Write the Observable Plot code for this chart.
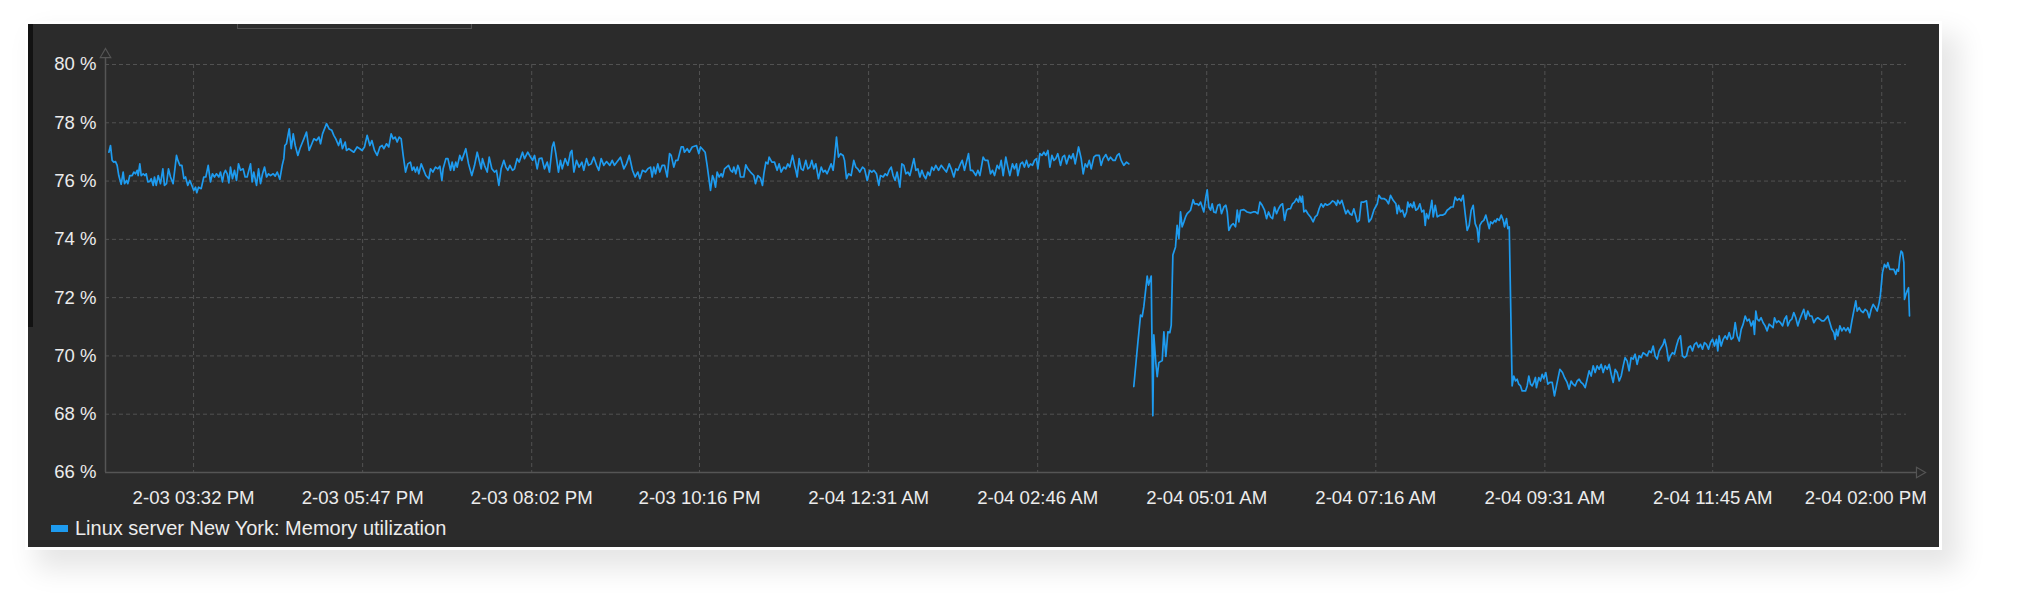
<!DOCTYPE html>
<html><head><meta charset="utf-8">
<script src="https://cdn.jsdelivr.net/npm/d3@7"></script>
<script src="https://cdn.jsdelivr.net/npm/@observablehq/plot@0.6"></script>
<style>
html,body{margin:0;padding:0;background:#fff;width:2017px;height:602px;overflow:hidden;font-family:"Liberation Sans",Arial,sans-serif;}
#panel{position:absolute;left:28px;top:24px;width:1911px;height:523px;background:#2b2b2b;box-shadow:0 0 0 3px #fff, 14px 16px 26px 6px rgba(0,0,0,0.10);}
#strip{position:absolute;left:28px;top:24px;width:5px;height:303px;background:#121212;}
#tab{position:absolute;left:237px;top:24px;width:233px;height:4px;border:1px solid #505050;border-top:none;background:#2e2e2e;}
#chart{position:absolute;left:0;top:0;}
#legend{position:absolute;left:51px;top:516px;height:24px;display:flex;align-items:center;color:#ececec;font-size:20px;white-space:nowrap;}
#legend .sw{width:17px;height:7px;margin-right:7px;}
</style>
</head><body>
<div id="panel"></div><div id="strip"></div><div id="tab"></div>
<div id="chart"></div>
<div id="legend"><span class="sw"></span><span id="legendText"></span></div>
<script>
// ---- data ----
const seriesName = "Linux server New York: Memory utilization";
const startTime = Date.UTC(2024, 1, 3, 14, 21, 40); // 2-03 02:21 PM
const spanMinutes = 1438.1;
const yTicks = [66, 68, 70, 72, 74, 76, 78, 80];
const xTickTimes = ["2024-02-03T15:32Z","2024-02-03T17:47Z","2024-02-03T20:02Z","2024-02-03T22:16Z","2024-02-04T00:31Z","2024-02-04T02:46Z","2024-02-04T05:01Z","2024-02-04T07:16Z","2024-02-04T09:31Z","2024-02-04T11:45Z","2024-02-04T14:00Z"];
const xTickLabels = ["2-03 03:32 PM","2-03 05:47 PM","2-03 08:02 PM","2-03 10:16 PM","2-04 12:31 AM","2-04 02:46 AM","2-04 05:01 AM","2-04 07:16 AM","2-04 09:31 AM","2-04 11:45 AM","2-04 02:00 PM"];

// [minutes after start, memory %]
const beforeGapA = [[2.7,76.99],[4.0,77.22],[5.3,76.71],[6.6,76.65],[8.0,76.67],[9.3,76.54],[10.6,76.19],[12.5,75.89],[14.1,76.31],[15.2,75.91],[16.8,76.02],[17.8,75.91],[19.4,76.19],[21.3,76.19],[22.6,76.31],[23.9,76.25],[25.3,76.37],[26.1,76.19],[27.4,76.59],[28.5,76.19],[30.1,76.25],[31.4,76.19],[32.5,76.25],[33.8,75.97],[35.4,75.99],[36.5,76.08],[38.1,75.85],[39.1,76.14],[40.5,75.85],[42.1,76.19],[43.9,75.91],[45.8,76.42],[47.1,75.85],[48.7,75.91],[50.3,76.42],[51.9,76.14],[54.0,75.91],[56.7,76.88],[57.8,76.71],[59.4,76.54],[61.0,76.54],[62.6,76.08],[63.9,76.14],[65.7,75.85],[67.3,76.02],[68.4,75.91],[70.5,75.68],[71.9,75.79],[72.9,75.60],[74.3,75.79],[76.4,75.74],[78.5,76.14],[80.1,76.14],[82.0,76.54],[83.8,75.97],[85.4,76.25],[87.0,76.14],[88.6,76.25],[90.5,76.14],[91.8,76.31],[93.4,75.97],[94.5,76.25],[95.8,76.37],[97.2,76.25],[98.5,75.94],[99.8,76.48],[101.4,76.08],[103.0,76.37],[104.6,76.02],[106.2,76.59],[107.8,76.37],[109.9,76.42],[111.5,76.14],[113.1,76.14],[115.8,76.59],[117.1,75.97],[118.4,76.31],[120.6,75.85],[122.2,76.42],[123.8,75.91],[125.4,76.25],[127.0,76.48],[128.6,76.14],[130.2,76.25],[131.8,76.19],[133.9,76.25],[135.5,76.17],[137.1,76.31],[139.2,76.06],[141.1,76.54],[142.4,76.77],[143.2,77.22],[144.5,77.28],[146.7,77.79],[148.3,77.11],[149.9,77.62],[151.5,77.22],[153.6,76.88],[155.2,77.11],[156.8,77.28],[158.4,77.45],[160.5,77.68],[162.6,77.05],[164.8,77.28],[166.4,77.45],[168.5,77.39],[170.4,77.51],[171.7,77.28],[173.3,77.62],[176.5,77.97],[178.6,77.79],[180.7,77.74],[182.3,77.57],[183.9,77.45],[186.1,77.22],[187.7,77.45],[189.2,77.11],[191.4,77.34],[192.4,77.05],[194.3,77.11],[198.3,76.99],[200.9,77.17],[203.1,77.11],[204.9,77.05],[206.8,77.17],[208.9,77.57],[211.1,77.22],[212.7,77.39],[214.8,77.05],[216.9,76.88],[219.1,77.17],[220.9,77.22],[222.3,77.11],[224.4,77.28],[226.2,77.17],[228.1,77.62],[229.7,77.45],[231.3,77.51],[232.9,77.34],[234.5,77.51]];
const beforeGapB = [[236.1,77.45],[237.7,76.88],[239.6,76.31],[241.4,76.59],[243.5,76.65],[244.9,76.37],[246.2,76.48],[247.5,76.31],[248.9,76.48],[250.2,76.25],[252.1,76.59],[253.7,76.42],[255.8,76.19],[258.2,76.08],[259.5,76.42],[261.4,76.31],[263.5,76.48],[265.4,76.42],[267.0,76.51],[268.6,76.02],[269.6,76.42],[271.8,76.77],[273.4,76.77],[275.5,76.37],[276.8,76.65],[278.2,76.37],[279.7,76.65],[280.8,76.48],[282.9,76.88],[284.5,76.71],[287.7,77.11],[289.9,76.59],[292.5,76.19],[294.7,76.54],[296.8,76.99],[298.4,76.71],[300.0,76.42],[301.0,76.77],[302.6,76.54],[304.8,76.31],[306.4,76.82],[308.5,76.42],[310.6,76.31],[312.2,76.37],[314.1,75.85],[315.9,76.42],[318.1,76.71],[319.7,76.48],[321.3,76.37],[322.9,76.54],[325.0,76.37],[326.6,76.42],[328.7,76.77],[330.3,76.65],[333.0,76.99],[334.6,76.77],[337.2,76.99],[339.4,76.82],[341.0,76.71],[342.6,76.88],[344.7,76.42],[346.3,76.77],[348.4,76.79],[350.5,76.42],[352.7,76.65],[354.5,76.31],[356.7,77.17],[358.0,77.34],[359.6,76.94],[361.7,76.31],[363.3,76.71],[364.7,76.42],[367.0,76.77],[369.2,76.54],[371.3,76.99],[372.4,77.05],[374.0,76.31],[376.1,76.71],[378.2,76.48],[380.4,76.65],[381.9,76.37],[384.1,76.77],[385.7,76.54],[387.8,76.59],[389.9,76.82],[392.1,76.54],[393.9,76.37],[395.8,76.77],[397.9,76.54],[400.1,76.67],[402.7,76.54],[404.6,76.71],[406.4,76.54],[411.2,76.82],[413.9,76.42],[416.0,76.59],[418.2,76.88],[420.8,76.37],[422.9,76.14],[425.1,76.31],[426.7,76.08],[428.8,76.37],[431.2,76.31],[433.1,76.42],[435.2,76.48],[436.5,76.14],[437.8,76.48],[439.2,76.25],[441.0,76.59],[442.6,76.31],[444.5,76.54],[446.4,76.54],[448.5,76.14],[450.4,76.94],[451.7,76.88],[453.8,76.48],[455.4,76.71],[457.0,76.71],[459.7,77.17],[461.3,77.17],[462.3,76.99],[464.5,77.11],[466.1,76.99],[468.5,77.17],[471.9,77.22],[473.8,76.94],[475.1,77.17]];
const beforeGapC = [[476.4,77.11],[478.8,76.99],[480.4,76.54],[481.5,76.19],[483.1,75.68],[484.7,76.19],[485.7,76.08],[487.1,75.79],[488.4,76.31],[490.0,76.14],[491.6,76.25],[492.7,76.14],[494.3,76.42],[495.9,76.48],[497.5,76.54],[499.1,76.37],[500.7,76.31],[501.7,76.48],[503.3,76.25],[504.9,76.54],[506.0,76.42],[507.0,76.14],[509.7,76.14],[511.3,76.56],[512.9,76.42],[515.0,76.31],[517.7,76.19],[519.0,75.91],[520.9,76.19],[523.0,76.10],[524.6,75.85],[525.7,76.25],[527.3,76.65],[528.9,76.59],[529.9,76.82],[532.1,76.65],[534.2,76.65],[536.3,76.37],[537.9,76.59],[539.5,76.31],[541.6,76.48],[543.2,76.42],[544.8,76.59],[546.4,76.48],[548.6,76.88],[550.2,76.54],[551.2,76.37],[552.3,76.14],[553.9,76.77],[555.5,76.42],[557.1,76.37],[559.2,76.71],[560.8,76.42],[562.4,76.48],[564.0,76.71],[565.6,76.42],[567.2,76.59],[569.3,76.08],[571.5,76.48],[573.1,76.31],[574.6,76.37],[576.2,76.25],[577.8,76.42],[579.4,76.59],[581.0,76.37],[582.1,76.77],[583.7,77.51],[585.3,76.82],[586.9,76.94],[589.0,76.88],[590.1,76.71],[591.7,76.08],[593.3,76.25],[595.4,76.19],[597.5,76.71],[599.1,76.48],[600.7,76.42],[602.3,76.31],[604.5,76.48],[606.1,76.42],[608.2,76.02],[610.3,76.37],[611.9,76.31],[613.5,76.37],[615.6,76.25],[617.5,75.85],[618.8,76.19],[621.0,76.14],[622.6,76.25],[624.2,76.19],[625.8,76.37],[627.4,76.48],[628.9,76.19],[630.5,76.02],[632.1,76.31],[634.3,75.79],[635.9,76.59],[637.5,76.54],[639.1,76.25],[640.7,76.31],[642.3,76.19]];
const beforeGapD = [[645.5,76.77],[647.1,76.37],[648.7,76.42],[650.3,76.14],[651.9,76.37],[653.4,76.19],[655.0,76.08],[656.6,76.31],[658.2,76.19],[659.8,76.48],[661.4,76.37],[663.0,76.54],[665.2,76.37],[667.3,76.54],[669.4,76.42],[671.5,76.31],[673.7,76.59],[675.3,76.42],[677.4,76.14],[679.0,76.42],[680.6,76.37],[682.7,76.59],[684.1,76.71],[685.9,76.37],[689.1,76.94],[690.7,76.37],[692.3,76.37],[695.0,76.19],[696.6,76.37],[698.2,76.19],[700.8,76.82],[702.4,76.71],[704.6,76.71],[706.7,76.25],[708.3,76.37],[709.9,76.19],[712.0,76.54],[713.6,76.42],[715.2,76.71],[716.8,76.19],[718.9,76.82],[720.5,76.48],[722.1,76.19],[724.2,76.59],[725.8,76.42],[727.4,76.59],[728.5,76.19],[730.6,76.59],[732.2,76.65],[733.8,76.48],[735.4,76.71],[737.0,76.48],[738.6,76.59],[740.2,76.54],[741.8,76.71],[743.4,76.77],[744.5,76.42],[746.1,76.94],[747.7,76.88],[749.3,76.99],[750.9,76.88],[752.5,77.05],[754.1,76.48],[755.7,76.88],[757.3,76.71],[758.8,76.77],[760.4,76.94],[762.6,76.54],[764.2,76.82],[765.8,76.88],[767.4,76.59],[769.5,76.88],[771.1,76.77],[772.7,76.94],[774.3,76.59],[777.0,77.17],[779.1,76.77],[780.7,76.25],[782.3,76.59],[783.9,76.48],[785.5,76.71],[787.1,76.42],[789.2,76.82],[790.8,76.88],[793.5,76.88],[795.0,76.54],[796.6,76.77],[798.8,76.91],[800.9,76.71],[802.5,76.82],[804.6,76.71],[806.2,76.71],[807.8,76.88],[809.4,76.94],[811.0,76.71],[813.1,76.54],[815.3,76.65],[817.1,76.59]];
const afterGapA = [[821.1,68.95],[823.3,69.98],[824.3,70.44],[826.5,71.40],[827.8,71.35],[829.1,71.69],[831.8,72.74],[832.9,72.43],[835.0,72.74],[836.3,67.95],[837.1,70.72],[838.7,69.75],[839.8,69.29],[841.1,69.77],[843.8,69.84],[845.1,70.83],[846.7,69.98],[848.3,70.83],[849.9,70.80],[851.0,71.06],[852.3,73.46],[854.4,73.74],[855.7,74.48],[857.1,74.03],[858.4,74.94],[859.7,74.43],[861.1,74.60],[862.4,74.77],[863.7,74.88],[865.1,74.94],[866.4,75.00],[868.5,75.36],[869.6,75.22],[871.7,75.22],[873.0,75.17],[874.4,75.28],[875.7,75.11],[877.0,74.94],[878.6,75.45],[879.7,75.70],[881.0,75.11],[882.4,75.00],[883.7,75.22],[885.0,74.94],[886.6,74.91],[888.2,75.17],[889.8,75.20],[891.1,74.88],[893.0,75.11],[894.6,75.17],[895.7,74.94],[897.0,74.31],[898.9,74.48],[900.5,74.54],[902.3,74.43],[903.7,75.00],[905.0,74.60],[906.3,75.00],[909.0,75.02],[911.6,74.94],[914.3,74.91],[916.4,74.94],[918.3,74.94],[920.2,74.88],[921.8,75.28],[923.6,75.17],[925.5,75.00],[927.1,74.71],[928.7,74.94],[930.3,74.77],[931.9,74.71],[933.5,75.11],[935.1,74.88],[936.7,75.05],[938.3,75.17],[939.9,75.22],[941.5,74.65],[943.1,75.00],[944.6,75.05],[946.2,75.05],[947.8,75.22],[949.4,75.28],[951.0,75.40],[952.6,75.28],[953.7,75.48],[954.8,75.28],[955.8,75.48],[956.9,74.94],[958.5,75.00],[960.1,74.88],[962.2,74.77],[964.3,74.60],[965.9,74.77],[967.5,74.83],[969.1,75.05],[970.7,75.22],[972.3,75.11],[973.9,75.22],[975.5,75.17],[977.7,75.22],[979.8,75.32],[981.4,75.28],[983.0,75.17],[984.0,75.34],[985.6,75.22],[987.2,75.34],[988.8,75.11],[990.4,74.88],[992.0,75.00],[993.6,74.88],[995.2,74.83],[996.8,75.05],[998.2,74.83],[999.5,74.60],[1001.1,74.65],[1002.7,75.28],[1004.8,75.28],[1006.9,75.32],[1008.8,74.60],[1010.7,74.71],[1012.8,75.00],[1014.1,75.11],[1015.5,75.22],[1016.8,75.51],[1018.6,75.40],[1020.8,75.40],[1022.9,75.34],[1024.5,75.22],[1026.1,75.51],[1028.2,75.34],[1030.4,75.22],[1031.4,74.88],[1032.5,75.17],[1034.1,74.94],[1035.7,75.00],[1037.3,74.77],[1038.9,74.94],[1039.9,75.28],[1041.0,75.11],[1042.1,75.22],[1043.7,75.09],[1044.7,75.28],[1046.3,75.00],[1047.9,75.05],[1049.5,75.22],[1051.1,74.94],[1052.7,75.00],[1053.8,74.48],[1054.8,74.88],[1056.4,74.71],[1058.0,75.05],[1059.1,75.34],[1060.2,74.77],[1061.8,75.17],[1063.4,74.77],[1065.5,74.83],[1067.6,74.83],[1069.7,74.88],[1071.3,75.00],[1072.9,75.05],[1074.5,75.11],[1076.1,75.11],[1077.7,75.45],[1079.3,75.34],[1080.9,75.40],[1082.5,75.32],[1084.1,75.51],[1085.7,74.88],[1087.3,74.31],[1088.9,74.48],[1090.5,75.00],[1092.1,75.17],[1093.7,74.54],[1095.3,74.37],[1096.4,73.91],[1097.4,74.48],[1099.0,74.60],[1100.6,74.65],[1102.2,74.83],[1103.3,74.65],[1104.9,74.37],[1106.0,74.60],[1107.6,74.54],[1109.2,74.65],[1110.2,74.60],[1111.3,74.71],[1112.9,74.65],[1114.5,74.83],[1116.1,74.65],[1117.1,74.43],[1118.7,74.71],[1119.8,74.37],[1120.9,74.43]];
const afterGapB = [[1123.2,68.97],[1124.5,69.31],[1125.9,69.14],[1127.2,69.20],[1128.5,69.03],[1129.9,68.97],[1131.2,68.80],[1133.9,68.80],[1135.2,68.97],[1136.5,69.31],[1137.9,69.03],[1139.2,68.97],[1140.5,69.09],[1141.8,69.26],[1142.6,68.91],[1144.5,69.26],[1145.8,69.14],[1147.2,69.37],[1148.5,69.22],[1150.1,69.43],[1151.7,69.03],[1153.3,69.09],[1155.2,69.09],[1157.0,68.63],[1158.6,68.97],[1161.3,69.54],[1163.4,69.43],[1165.0,69.26],[1167.1,69.09],[1168.7,68.86],[1170.3,69.14],[1171.9,69.03],[1173.5,68.97],[1175.1,69.14],[1176.7,69.20],[1178.3,69.09],[1179.9,69.03],[1181.5,68.91],[1183.1,69.20],[1184.7,69.49],[1186.3,69.31],[1187.9,69.66],[1189.5,69.43],[1191.1,69.66],[1192.7,69.54],[1194.3,69.71],[1195.9,69.43],[1197.5,69.66],[1199.1,69.54],[1200.7,69.71],[1202.3,69.37],[1203.9,69.09],[1205.5,69.54],[1207.1,69.43],[1208.7,69.14],[1210.3,69.31],[1211.9,69.66],[1213.4,69.94],[1215.0,69.83],[1216.6,69.49],[1218.2,69.94],[1219.8,69.89],[1221.4,70.06],[1223.0,69.71],[1224.6,70.00],[1226.2,69.94],[1227.8,70.11],[1229.4,70.06],[1231.0,70.00],[1232.6,70.17],[1234.2,70.11],[1235.8,70.34],[1237.4,70.00],[1239.0,69.89],[1240.6,70.17],[1242.2,70.29],[1243.8,70.40],[1244.9,70.57],[1246.5,70.29],[1248.1,69.83],[1249.6,70.00],[1251.2,70.11],[1252.8,70.06],[1254.4,70.34],[1256.0,70.57],[1257.6,70.69],[1259.2,70.00],[1260.8,69.94],[1262.4,70.00],[1264.0,70.29],[1265.6,70.34],[1267.2,70.17],[1268.8,70.40],[1270.4,70.46],[1272.0,70.29],[1273.6,70.40],[1275.2,70.23],[1276.8,70.46],[1278.4,70.40],[1280.0,70.23],[1281.6,70.46],[1283.2,70.57],[1284.8,70.34],[1286.4,70.57],[1287.4,70.17],[1288.5,70.69],[1290.1,70.34],[1291.7,70.57],[1293.3,70.69],[1294.9,70.57],[1296.5,70.80],[1298.1,70.57],[1299.7,70.63],[1301.3,71.14],[1302.9,70.69],[1304.5,70.51],[1306.1,70.91],[1307.7,71.09],[1309.3,71.37],[1310.9,71.20],[1312.5,71.26],[1314.1,71.03],[1315.7,71.20],[1316.7,70.74],[1317.8,71.54],[1318.9,71.26],[1320.4,71.20],[1322.0,71.31],[1323.6,71.14],[1325.2,71.03],[1326.8,70.86],[1328.4,71.09],[1330.0,71.03],[1331.6,70.97],[1332.7,71.31],[1334.3,71.14],[1335.9,71.20],[1337.5,71.14],[1339.1,71.03],[1340.7,71.26],[1342.3,71.37],[1343.3,71.03],[1344.9,71.20],[1346.5,71.26],[1348.1,71.49],[1349.7,71.31],[1351.3,71.03],[1352.9,71.26],[1354.5,71.43],[1356.1,71.60],[1357.7,71.26],[1359.3,71.54],[1360.9,71.37],[1362.5,71.37],[1364.1,71.14],[1365.7,71.26],[1367.3,71.31],[1368.9,71.26],[1370.5,71.20],[1372.1,71.20],[1373.7,71.28],[1375.3,71.37],[1376.9,71.14],[1378.5,70.91],[1380.1,70.80],[1381.1,70.57],[1382.2,70.91],[1383.3,70.69],[1384.9,71.03],[1386.5,70.86],[1388.1,70.97],[1389.7,70.86],[1391.3,70.97],[1392.9,70.80],[1394.5,71.20],[1396.0,71.54],[1397.6,71.89],[1398.7,71.54],[1400.3,71.66],[1401.9,71.54],[1403.5,71.49],[1405.1,71.60],[1406.7,71.54],[1408.3,71.31],[1409.9,71.60],[1411.5,71.77],[1413.1,71.66],[1414.7,71.54],[1416.3,71.83],[1417.3,72.11],[1418.9,72.86],[1420.5,73.14],[1422.1,73.03],[1423.2,73.20],[1424.8,72.97],[1426.4,72.97],[1428.0,72.97],[1429.6,72.80],[1430.6,72.97],[1431.7,72.91],[1432.8,73.37],[1433.8,73.60],[1434.9,73.54],[1436.0,73.20],[1436.5,71.94],[1437.6,72.11],[1438.6,72.23],[1439.7,72.34],[1440.5,71.37]];

// ---- build ----
const toDate = m => new Date(startTime + m * 60000);
const rows = [];
[[beforeGapA, beforeGapB, beforeGapC, beforeGapD], [afterGapA, afterGapB]].forEach((parts, s) => {
  parts.flat().forEach(([m, v]) => rows.push({t: toDate(m), v, seg: s}));
});
const x0 = new Date(startTime), x1 = toDate(spanMinutes);
const tickDates = xTickTimes.map(s => new Date(s));
const labelOf = new Map(tickDates.map((d, i) => [+d, xTickLabels[i]]));
const gridColor = "#525252", axisColor = "#555555", lineColor = "#1e9bef";
const innerTicks = tickDates.slice(0, -1), lastTick = tickDates.slice(-1);

const chart = Plot.plot({
  width: 2017, height: 540,
  marginLeft: 105, marginRight: 111, marginTop: 64, marginBottom: 68,
  style: {background: "transparent", color: "#ececec", fontFamily: "'Liberation Sans', Arial, sans-serif", fontSize: "18px", overflow: "visible"},
  x: {type: "utc", domain: [x0, x1], label: null},
  y: {domain: [66, 80], label: null},
  marks: [
    Plot.gridY(yTicks, {stroke: gridColor, strokeOpacity: 1, strokeDasharray: "4,3"}),
    Plot.gridX(tickDates, {stroke: gridColor, strokeOpacity: 1, strokeDasharray: "4,3"}),
    Plot.ruleX([x0], {stroke: axisColor, strokeWidth: 1.5, insetTop: -8}),
    Plot.ruleY([66], {stroke: axisColor, strokeWidth: 1.5, insetRight: -10}),
    Plot.line(rows, {x: "t", y: "v", z: "seg", stroke: lineColor, strokeWidth: 1.7}),
    Plot.axisY(yTicks, {label: null, tickSize: 0, tickPadding: 9, tickFormat: d => d + " %", fontSize: 18.5}),
    Plot.axisX(innerTicks, {label: null, tickSize: 0, tickPadding: 18, tickFormat: d => labelOf.get(+d), fontSize: 18.6}),
    Plot.axisX(lastTick, {label: null, tickSize: 0, tickPadding: 18, tickFormat: d => labelOf.get(+d), fontSize: 18.6, dx: -16}),
    Plot.dot([x0], {x: d => d, y: () => 80, dy: -10, symbol: "triangle", r: 3.9, stroke: axisColor, strokeWidth: 1.2, fill: "#2b2b2b"}),
    Plot.dot([x1], {x: d => d, y: () => 66, dx: 13, rotate: 90, symbol: "triangle", r: 3.9, stroke: axisColor, strokeWidth: 1.2, fill: "#2b2b2b"})
  ]
});
document.getElementById("chart").appendChild(chart);
document.getElementById("legendText").textContent = seriesName;
document.querySelector("#legend .sw").style.background = lineColor;
</script>
</body></html>
